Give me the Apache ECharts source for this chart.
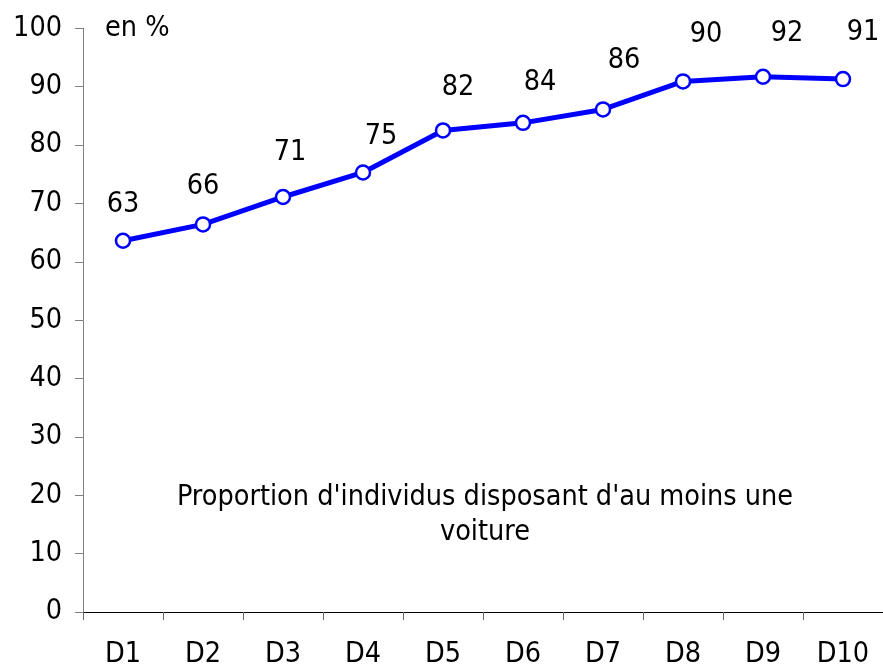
<!DOCTYPE html>
<html>
<head>
<meta charset="utf-8">
<script src="https://cdn.jsdelivr.net/npm/echarts@6/dist/echarts.min.js"></script>
<style>
html, body { margin: 0; padding: 0; background: #fff; }
#main { width: 883px; height: 669px; }
</style>
</head>
<body>
<div id="main"></div>
<script>
// déciles de niveau de vie
var categories = ['D1', 'D2', 'D3', 'D4', 'D5', 'D6', 'D7', 'D8', 'D9', 'D10'];
// part des individus avec au moins une voiture (en %)
var values = [63.6, 66.4, 71.1, 75.3, 82.5, 83.8, 86.1, 90.9, 91.7, 91.3];
// étiquettes affichées
var labels = ['63', '66', '71', '75', '82', '84', '86', '90', '92', '91'];
var yTicks = { min: 0, max: 100, interval: 10 };

var FONT = 'Tahoma, "DejaVu Sans Condensed", "DejaVu Sans", sans-serif';
var FS = 28.5;

window.onload = function () {
	var myChart = echarts.init(document.getElementById('main'));

	// décalage des étiquettes (placées à la main comme dans l'original)
	var labelOffsets = [[0, -36], [0, -38], [7, -44], [18, -36], [15, -43],
		[17, -40], [21, -49], [23, -47], [24, -43], [20, -46]];

	var seriesData = [];
	for (var i = 0; i < values.length; i++) {
		seriesData.push({
			value: values[i],
			label: {
				formatter: labels[i],
				offset: labelOffsets[i]
			}
		});
	}

	var option = {
		backgroundColor: '#fff',
		animation: false,
		grid: {
			left: 83,
			right: 0,
			top: 28.3,
			bottom: 56.7
		},
		xAxis: {
			type: 'category',
			data: categories,
			boundaryGap: true,
			axisLine: { lineStyle: { color: '#000', width: 1 } },
			axisTick: { show: true, inside: false, length: 8, lineStyle: { color: '#666' } },
			axisLabel: { color: '#000', fontSize: FS, fontFamily: FONT, margin: 28 },
			splitLine: { show: false }
		},
		yAxis: {
			type: 'value',
			min: yTicks.min,
			max: yTicks.max,
			interval: yTicks.interval,
			axisLine: { show: true, lineStyle: { color: '#808080', width: 1 } },
			axisTick: { show: true, inside: false, length: 8, lineStyle: { color: '#808080' } },
			axisLabel: { color: '#000', fontSize: FS, fontFamily: FONT, margin: 21 },
			splitLine: { show: false }
		},
		graphic: [
			{
				type: 'text',
				left: 105,
				top: 14,
				style: { text: 'en %', fill: '#000', font: FS + 'px ' + FONT }
			},
			{
				type: 'text',
				x: 485,
				y: 515,
				style: {
					text: "Proportion d'individus disposant d'au moins une\nvoiture",
					fill: '#000',
					font: FS + 'px ' + FONT,
					textAlign: 'center',
					textVerticalAlign: 'middle',
					lineHeight: 35
				}
			}
		],
		series: [{
			type: 'line',
			data: seriesData,
			symbol: 'circle',
			symbolSize: 14,
			lineStyle: { color: '#0000ff', width: 5 },
			itemStyle: { color: '#fff', borderColor: '#0000ff', borderWidth: 2.5 },
			label: {
				show: true,
				position: 'inside',
				color: '#000',
				fontSize: FS,
				fontFamily: FONT
			},
			z: 3
		}]
	};
	myChart.setOption(option);
};
</script>
</body>
</html>
